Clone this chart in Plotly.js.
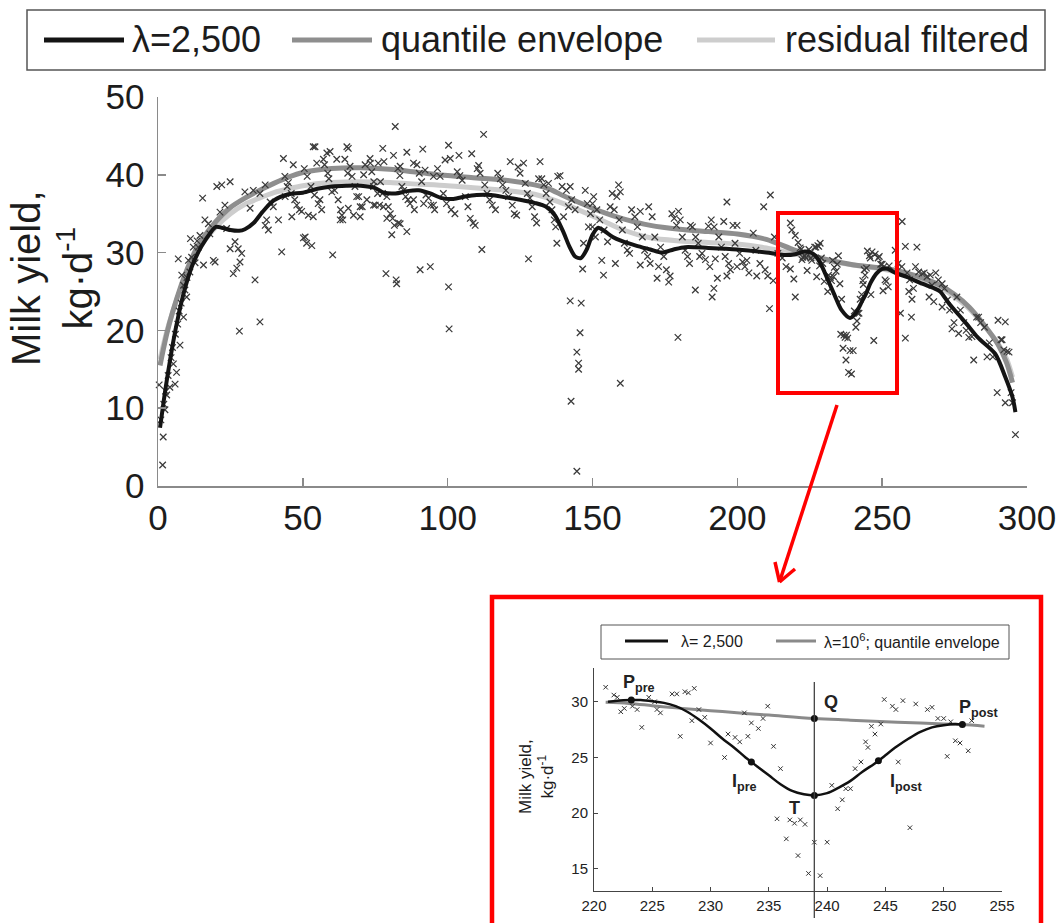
<!DOCTYPE html>
<html><head><meta charset="utf-8">
<script src="https://cdn.plot.ly/plotly-3.0.1.min.js"></script>
<style>html,body{margin:0;padding:0;background:#fff;}#chart{width:1060px;height:923px;}</style>
</head><body><div id="chart"></div>
<script>
// ---------------- DATA ----------------
const xTicksMain = [0, 50, 100, 150, 200, 250, 300];
const yTicksMain = [0, 10, 20, 30, 40, 50];
const xTicksInset = [220, 225, 230, 235, 240, 245, 250, 255];
const yTicksInset = [15, 20, 25, 30];
const legendMain = ["λ=2,500", "quantile envelope", "residual filtered"];
const legendInset = ["λ= 2,500", "λ=10<sup>6</sup>; quantile envelope"];
const yTitle = "Milk yield,<br>kg·d<sup>-1</sup>";

// daily milk yield observations (day, kg/d) outside the zoomed window
const scatterMain = [
[1.6,2.7],[1.8,6.3],[0.4,13.0],[2.4,9.8],[3.0,11.7],[4.1,12.7],[5.9,13.1],[6.4,14.6],[5.3,15.7],[7.6,18.1],[8.8,21.7],[9.9,24.3],[8.8,25.8],[8.2,27.1],[7.0,29.2],[10.5,29.0],[11.6,29.4],[12.2,30.7],[13.9,30.7],[15.7,28.4],[16.2,34.2],[17.4,33.7],[17.9,32.4],[19.1,29.0],[19.7,28.8],[15.4,37.0],[20.3,38.5],[22.0,38.7],[24.9,39.1],[23.1,36.1],[21.4,35.2],[23.7,33.1],[24.9,30.5],[26.6,31.4],[27.7,30.5],[28.9,29.9],[28.3,28.8],[27.2,28.0],[26.0,27.3],[28.1,19.9],[33.5,26.5],[35.2,21.1],[30.0,37.8],[31.8,35.7],[32.9,38.0],[35.2,37.6],[37.0,38.7],[38.7,36.5],[37.5,34.2],[38.1,32.9],[37.0,33.5],[39.8,35.9],[41.6,34.2],[42.7,30.1],[43.3,42.1],[43.9,37.2],[45.0,39.0],[46.7,41.3],[46.2,34.6],[47.9,36.1],[49.6,35.3],[50.8,32.0],[51.3,31.2],[53.1,30.9],[51.9,34.8],[53.6,34.6],[54.2,43.6],[54.8,41.5],[55.9,36.8],[57.1,42.0],[58.3,42.8],[59.4,43.0],[60.0,37.8],[60.3,29.7],[61.7,42.0],[63.5,34.8],[62.9,34.2],[65.2,43.6],[65.7,35.7],[66.3,41.1],[67.5,34.8],[68.6,37.2],[69.8,34.6],[71.0,40.0],[72.1,36.8],[73.3,41.5],[75.0,36.1],
[1.0,8.5],[2.0,10.5],[2.6,12.2],[3.5,14.2],[4.5,16.5],[5.0,17.8],[6.0,19.5],[6.8,20.8],[7.3,22.5],[8.0,23.5],[9.3,25.2],[10.0,26.8],[11.0,27.5],[12.8,28.7],[13.5,31.5],[14.5,32.2],[11.2,31.8],
[43.8,39.8],[44.6,38.5],[46.0,37.6],[47.2,36.8],[48.8,35.5],[50.5,40.8],[51.5,39.8],[52.8,38.5],[54.0,37.4],[55.3,36.3],[56.5,35.5],[57.5,41.3],[58.6,40.2],[59.0,39.5],[61.0,38.0],[62.2,36.8],[63.0,35.5],[63.8,34.2],[64.5,42.0],[65.5,40.2],[67.0,39.8],[68.0,38.5],[69.3,37.2],[70.5,35.9],[71.5,41.3],[73.8,40.4],[74.5,39.1],[75.8,37.6],[76.5,36.1],
[81.9,46.2],[77.6,43.4],[85.9,42.9],[91.4,43.3],[81.3,42.5],[73.2,42.1],[78.0,41.7],[83.6,41.1],[88.2,41.5],[92.2,40.6],[95.1,39.8],[74.4,38.5],[79.0,37.2],[84.8,38.0],[88.2,36.8],[91.7,36.3],[95.1,36.1],[69.8,35.9],[74.4,36.1],[79.0,34.4],[77.8,35.9],[83.0,33.8],[85.9,32.7],[80.7,32.3],[78.7,27.3],[82.2,26.5],[82.4,26.0],[90.5,27.8],[94.0,28.2],[53.6,43.6],[65.7,43.4],[50.2,31.9],
[100.3,43.8],[112.4,45.2],[103.9,42.5],[108.3,42.7],[99.1,41.9],[100.9,42.1],[121.6,41.7],[126.2,41.5],[131.9,41.7],[138.0,39.8],[134.8,38.9],[142.3,38.5],[131.4,39.5],[110.7,41.2],[100.3,25.6],[100.5,20.2],[111.8,30.4],[127.9,29.2],[137.7,31.2],[142.3,23.8],[146.1,23.5],[145.7,19.7],[144.6,17.2],[145.2,15.8],[145.2,15.0],[142.6,10.9],[144.6,1.9],[146.6,27.9],[146.9,31.2],[148.6,33.3],[140.0,34.6],[141.7,35.9],[83.6,33.7],
[76.0,41.5],[76.8,39.1],[77.5,37.6],[79.5,35.9],[80.2,35.0],[81.0,34.4],[81.6,33.5],
[82.8,40.8],[83.5,39.9],[84.2,38.5],[85.5,37.2],[86.3,36.8],[87.0,36.3],[88.5,35.5],
[89.4,41.3],[90.2,40.2],[91.0,39.1],[92.5,37.4],[93.4,37.0],[94.2,36.1],[95.5,35.5],
[96.5,40.8],[97.4,39.8],[98.5,37.6],[99.6,36.3],[101.2,35.5],[102.5,35.0],
[103.3,40.4],[104.2,39.9],[105.0,39.3],[106.1,37.2],[107.0,35.9],[107.8,34.4],[108.8,33.8],[109.5,33.5],
[110.2,40.8],[111.2,40.2],[112.8,38.7],[113.6,37.6],[114.5,36.8],[115.4,36.1],[116.5,35.5],
[117.3,40.2],[118.2,39.5],[119.0,38.7],[120.1,38.0],[121.0,37.2],[122.3,36.1],[123.0,35.0],[123.8,34.8],
[124.3,41.0],[125.0,40.2],[126.8,38.9],[127.5,37.6],[128.4,37.0],[129.2,35.9],[130.0,34.6],[130.7,33.8],
[132.5,39.5],[133.2,38.7],[134.0,37.6],[135.3,36.5],[136.0,35.5],[136.8,34.2],[137.3,33.3],
[138.8,39.9],[139.5,38.5],[141.0,38.0],[142.8,36.8],[144.0,35.5],
[147.5,38.0],[148.2,36.3],[149.3,35.0],[150.0,33.3],[151.0,32.0],
[159.0,38.7],[159.6,37.8],[158.4,37.2],[150.4,37.2],[156.1,35.9],[169.4,35.9],[179.7,35.3],[180.3,34.2],[166.5,35.3],[183.8,33.5],[196.4,36.5],[211.4,37.4],[209.1,35.9],[190.0,33.4],[195.3,34.0],[199.9,33.5],[153.2,29.0],[153.8,27.1],[157.9,28.6],[166.5,28.4],[169.9,28.6],[172.8,28.2],[172.3,26.7],[176.3,26.2],[185.5,25.2],[191.3,24.3],[191.9,25.4],[193.1,26.7],[196.4,27.0],[199.9,28.2],[206.7,27.0],[211.1,22.8],[179.5,19.1],[159.6,13.2],[187.0,29.5],[192.4,29.2],[203.3,29.0],[218.3,33.8],[220.0,32.2],[218.3,27.9],[219.5,26.6],[220.0,24.3],[212.4,26.4],
[150.0,36.3],[151.5,35.5],[152.5,34.2],[154.0,32.9],[155.2,31.4],
[156.8,37.6],[157.5,35.5],[159.2,34.2],[160.3,32.9],[161.0,31.2],[162.0,30.3],[162.8,29.9],
[163.5,35.5],[164.6,34.6],[165.5,33.3],[167.2,32.0],[168.0,30.3],[169.0,29.5],
[170.6,34.6],[171.5,32.0],[173.5,30.7],[174.6,29.5],[175.5,27.8],[176.8,27.0],
[177.4,35.0],[178.2,34.4],[179.0,33.5],[181.0,32.0],[182.0,30.3],[182.8,29.5],[183.5,28.6],
[184.5,33.3],[185.6,32.0],[186.5,31.2],[187.8,29.9],[189.0,29.1],[190.5,28.2],
[191.0,34.2],[192.0,33.3],[193.6,32.0],[194.5,30.7],[195.8,29.5],[197.0,28.6],[197.6,27.8],
[198.5,33.5],[199.2,31.2],[200.8,29.9],[201.8,28.8],[202.6,28.2],[204.0,27.4],
[205.5,32.5],[206.4,30.3],[207.8,28.6],[209.6,27.8],[210.5,27.0],
[212.8,32.0],[214.0,29.9],[215.5,29.3],[216.8,28.2],[218.8,32.9],
[256.9,34.0],[258.0,30.8],[262.0,30.7],[258.0,19.0],[256.3,22.2],[259.2,25.0],[260.3,24.0],[260.1,21.7],[263.8,27.3],[266.6,27.1],[267.2,25.8],[270.7,26.0],[270.7,23.0],[274.1,20.2],[276.4,19.6],[279.9,19.1],[281.6,16.2],[283.3,21.7],[286.2,16.6],[292.5,21.1],[291.4,18.8],[293.1,17.3],[289.7,12.0],[292.5,10.7],[296.0,6.6],
[254.5,30.3],[255.5,28.6],[256.8,28.2],[258.6,27.4],[259.5,26.5],[260.8,25.4],
[261.5,28.2],[262.6,27.5],[264.5,27.4],[265.5,26.9],[266.2,24.3],[267.8,23.7],
[268.5,27.4],[269.4,26.5],[271.5,25.4],[272.5,23.9],[273.3,22.6],[274.8,21.0],
[275.8,24.3],[277.0,22.6],[278.2,21.0],[279.0,20.0],[281.0,19.2],
[282.6,21.7],[284.0,21.0],[285.3,20.4],[287.0,18.4],[288.2,16.6],
[290.0,21.3],[291.0,18.8],[292.0,17.5],[293.8,17.2],[294.5,12.0],[295.0,10.7]
];

// observations inside the zoomed window (days 221-253), shown in both panels
const scatterInset = [
[221.0,31.3],[221.7,30.6],[222.0,30.4],[222.3,29.1],[222.6,29.4],[223.3,29.6],[223.7,29.3],[224.1,27.7],[224.7,30.4],[225.2,30.0],[225.4,29.3],[225.7,29.0],[226.7,30.7],[227.1,30.7],[227.4,26.9],[227.8,30.9],[228.1,30.8],[228.6,31.2],[228.4,28.3],[229.0,29.3],[229.5,28.6],[230.0,26.3],[231.2,25.0],[231.5,27.1],[232.1,26.8],[232.5,26.4],[232.9,29.0],[233.2,26.9],[233.5,28.1],[234.1,27.6],[234.5,28.5],[234.9,29.6],[235.4,26.0],[235.7,19.5],[236.0,24.0],[236.5,17.7],[236.8,19.4],[237.2,19.1],[237.5,16.2],[237.7,19.4],[238.1,19.0],[238.4,14.6],[238.9,17.4],[239.4,14.4],[240.0,17.4],[240.4,22.5],[240.9,20.4],[241.3,21.2],[241.6,22.2],[242.0,22.2],[242.4,24.0],[242.9,24.6],[243.3,26.4],[243.5,25.9],[243.8,27.8],[244.1,27.1],[244.6,28.0],[244.9,30.2],[245.6,29.6],[245.9,29.3],[246.1,24.6],[246.5,30.1],[247.1,18.7],[247.6,29.8],[248.6,29.3],[249.0,29.5],[249.5,28.5],[250.0,28.5],[250.3,25.1],[250.6,28.2],[251.0,26.5],[251.4,26.3],[252.1,25.6],[252.4,28.3]
];

// smoothed curves (day, kg/d)
const curveLambda2500 = [
[0.7,7.5],[2,11],[3,13.5],[4,15.8],[5,18],[6,20],[7,21.8],[8,23.5],[10,26.3],[12,28.5],[15,30.8],[18,32.5],[20,33.3],[22,33.2],[25,32.9],[28,32.8],[30,33.0],[33,33.8],[36,35.2],[40,36.7],[45,37.5],[50,37.7],[55,38.2],[60,38.5],[65,38.6],[70,38.6],[75,38.3],[78,37.7],[82,37.6],[86,37.9],[90,38.0],[94,37.6],[98,37.0],[102,36.9],[106,37.2],[110,37.4],[115,37.4],[120,37.1],[125,36.8],[130,36.4],[134,35.9],[137,34.8],[140,32.6],[142,30.8],[144,29.5],[146,29.3],[148,30.4],[150,32.3],[152,33.2],[154,32.8],[157,32.0],[160,31.5],[165,30.9],[170,30.4],[174,30.0],[178,30.4],[182,30.7],[190,30.6],[200,30.4],[210,30.0],[216,29.7],[220,29.8],[223.2,30.15],[225,30.05],[227,29.6],[229,28.4],[231,26.7],[233.5,24.6],[236,22.6],[238.9,21.6],[241,22.3],[243,23.7],[244.4,24.7],[246,26.1],[248,27.3],[250,27.9],[251.6,27.95],[254.6,27.4],[259,26.8],[263.8,26.0],[268,25.4],[270,25.0],[273,23.5],[279,20.9],[283,19.1],[289,17.0],[292.5,14.0],[295,11.4],[296,9.5]
];
const curveQuantile = [
[0.7,15.5],[3,19.5],[5,22.3],[8,25.8],[10,27.8],[13,30.3],[16,32.1],[20,34.0],[25,35.8],[30,37.0],[35,38.0],[40,38.9],[45,39.7],[50,40.3],[60,40.8],[70,40.9],[80,40.7],[90,40.3],[100,39.9],[110,39.6],[120,39.3],[130,38.7],[135,38.2],[140,37.3],[145,36.5],[150,35.7],[155,35.0],[160,34.4],[170,33.5],[180,33.0],[190,32.7],[200,32.4],[210,31.7],[220,30.3],[230,29.2],[238.9,28.5],[245,28.2],[250,28.0],[255,27.7],[260,27.2],[265,26.6],[270,25.8],[275,24.6],[280,23.0],[285,20.8],[290,18.2],[293,15.8],[295,13.3]
];
const curveResidual = [
[0.7,16.3],[3,19.8],[5,22.3],[8,25.5],[10,27.3],[13,29.6],[16,31.5],[20,33.3],[25,35.0],[30,36.2],[35,37.0],[40,37.7],[45,38.2],[50,38.6],[60,39.0],[70,39.1],[80,39.0],[90,38.8],[100,38.6],[110,38.3],[120,38.0],[130,37.5],[140,36.3],[150,34.7],[160,33.0],[170,31.9],[180,31.5],[190,31.3],[200,31.1],[210,30.6],[220,29.8],[230,29.0],[240,28.4],[250,27.9],[255,27.5],[260,27.0],[265,26.3],[270,25.5],[275,24.3],[280,22.8],[285,20.7],[290,18.3],[293,16.3],[295,14.0]
];

// inset curves
const insetLambda2500 = [
[221.2,30.0],[222,30.1],[223.2,30.15],[224,30.15],[225,30.05],[226,29.9],[227,29.6],[228,29.1],[229,28.4],[230,27.6],[231,26.7],[232,25.9],[233,25.0],[233.5,24.6],[234,24.2],[235,23.4],[236,22.6],[237,22.0],[238,21.7],[238.9,21.6],[240,21.8],[241,22.3],[242,22.9],[243,23.7],[244,24.4],[244.4,24.7],[245,25.2],[246,26.0],[247,26.7],[248,27.3],[249,27.7],[250,27.9],[251,28.0],[251.6,27.95]
];
const insetQuantile = [
[221,29.95],[223,29.85],[225,29.65],[227,29.45],[230,29.2],[233,28.95],[235,28.8],[238.9,28.5],[242,28.35],[245,28.2],[248,28.1],[250,28.0],[251.6,27.95],[253.5,27.8]
];
const keyPointNames = ["Ppre", "Ipre", "T", "Q", "Ipost", "Ppost"];
const keyPointDays = [223.2, 233.5, 238.9, 238.9, 244.4, 251.6];
const keyPointYield = [30.15, 24.6, 21.6, 28.5, 24.7, 27.95];
const keyPointLabels = ["P<sub>pre</sub>", "I<sub>pre</sub>", "T", "Q", "I<sub>post</sub>", "P<sub>post</sub>"];
const keyLabelDays = [223.9, 232.9, 237.2, 240.3, 246.8, 253.0];
const keyLabelYield = [31.6, 22.8, 20.5, 30.0, 22.8, 29.4];
const dropDay = 238.9;

// ---------------- CHART ----------------
const W = 1060, H = 923;
const px = v => v / W, py = v => 1 - v / H;
const FONT = 'Liberation Sans, Arial, Helvetica, sans-serif';
const xs = a => a.map(p => p[0]), ys = a => a.map(p => p[1]);
const allMain = scatterMain.concat(scatterInset);

const C_BLACK = '#141414', C_GREY = '#8e8e8e', C_LIGHT = '#cdcdcd';

const traces = [
  {x: xs(curveResidual), y: ys(curveResidual), xaxis:'x', yaxis:'y', mode:'lines', line:{color:C_LIGHT, width:5, shape:'spline', smoothing:0.8}},
  {x: xs(curveQuantile), y: ys(curveQuantile), xaxis:'x', yaxis:'y', mode:'lines', line:{color:C_GREY, width:5, shape:'spline', smoothing:0.8}},
  {x: xs(allMain), y: ys(allMain), xaxis:'x', yaxis:'y', mode:'markers', cliponaxis:false,
   marker:{symbol:'x-thin', size:6.5, line:{color:'#3a3a3a', width:1.25}}},
  {x: xs(curveLambda2500), y: ys(curveLambda2500), xaxis:'x', yaxis:'y', mode:'lines', line:{color:C_BLACK, width:4, shape:'spline', smoothing:0.8}},
  {x: xs(insetQuantile), y: ys(insetQuantile), xaxis:'x2', yaxis:'y2', mode:'lines', line:{color:'#8a8a8a', width:3, shape:'spline'}},
  {x: xs(scatterInset), y: ys(scatterInset), xaxis:'x2', yaxis:'y2', mode:'markers',
   marker:{symbol:'x-thin', size:4.5, line:{color:'#333', width:1}}},
  {x: xs(insetLambda2500), y: ys(insetLambda2500), xaxis:'x2', yaxis:'y2', mode:'lines', line:{color:'#111', width:2.5, shape:'spline'}},
  {x: keyPointDays, y: keyPointYield, text: keyPointNames, xaxis:'x2', yaxis:'y2', mode:'markers', marker:{color:'#111', size:7}}
];

const axBase = {showgrid:false, zeroline:false, showline:true, ticks:'inside', fixedrange:true};
const layout = {
  width: W, height: H, margin:{l:0, r:0, t:0, b:0},
  paper_bgcolor:'#fff', plot_bgcolor:'rgba(0,0,0,0)', showlegend:false,
  font:{family:FONT, color:'#1c1c1c'},
  xaxis: Object.assign({}, axBase, {domain:[px(158), px(1027)], range:[0,300], anchor:'y', tickmode:'array', tickvals:xTicksMain,
    ticklen:8, tickcolor:'#8a8a8a', tickwidth:1.5, linecolor:'#8a8a8a', linewidth:1.5, tickfont:{size:35, family:FONT, color:'#1c1c1c'}, ticklabelstandoff:0}),
  yaxis: Object.assign({}, axBase, {domain:[py(486), py(97)], range:[0,50], anchor:'x', tickmode:'array', tickvals:yTicksMain,
    ticklen:8, tickcolor:'#8a8a8a', tickwidth:1.5, linecolor:'#8a8a8a', linewidth:1.5, tickfont:{size:35, family:FONT, color:'#1c1c1c'}, ticklabelstandoff:5}),
  xaxis2: Object.assign({}, axBase, {domain:[px(594), px(1002)], range:[220,255], anchor:'y2', tickmode:'array', tickvals:xTicksInset,
    ticklen:4, tickcolor:'#444', linecolor:'#444', linewidth:1, tickfont:{size:15, family:FONT, color:'#222'}, ticklabelstandoff:1}),
  yaxis2: Object.assign({}, axBase, {domain:[py(890.7), py(668.3)], range:[13.05,33.0], anchor:'x2', tickmode:'array', tickvals:yTicksInset,
    ticklen:4, tickcolor:'#444', linecolor:'#444', linewidth:1, tickfont:{size:15, family:FONT, color:'#222'}, ticklabelstandoff:2}),
  shapes: [
    {type:'rect', xref:'paper', yref:'paper', x0:px(27), x1:px(1045), y0:py(70), y1:py(10), line:{color:'#555', width:1.5}},
    {type:'line', xref:'paper', yref:'paper', x0:px(44), x1:px(124), y0:py(40), y1:py(40), line:{color:C_BLACK, width:5}},
    {type:'line', xref:'paper', yref:'paper', x0:px(292), x1:px(372), y0:py(40), y1:py(40), line:{color:C_GREY, width:5}},
    {type:'line', xref:'paper', yref:'paper', x0:px(697), x1:px(775), y0:py(40), y1:py(40), line:{color:C_LIGHT, width:5}},
    {type:'rect', xref:'paper', yref:'paper', x0:px(778), x1:px(897), y0:py(393), y1:py(213), line:{color:'#ff0000', width:4}},
    {type:'line', xref:'paper', yref:'paper', x0:px(837), y0:py(405), x1:px(779.5), y1:py(582), line:{color:'#ff0000', width:3.5}},
    {type:'line', xref:'paper', yref:'paper', x0:px(779.5), y0:py(582), x1:px(775), y1:py(562), line:{color:'#ff0000', width:3.5}},
    {type:'line', xref:'paper', yref:'paper', x0:px(779.5), y0:py(582), x1:px(795), y1:py(569), line:{color:'#ff0000', width:3.5}},
    {type:'rect', xref:'paper', yref:'paper', x0:px(492), x1:px(1041), y0:py(935), y1:py(597), line:{color:'#ff0000', width:4.5}},
    {type:'rect', xref:'paper', yref:'paper', x0:px(601), x1:px(1009), y0:py(659), y1:py(625), line:{color:'#555', width:1}},
    {type:'line', xref:'paper', yref:'paper', x0:px(625), x1:px(668), y0:py(641), y1:py(641), line:{color:'#111', width:3}},
    {type:'line', xref:'paper', yref:'paper', x0:px(776), x1:px(816), y0:py(641), y1:py(641), line:{color:'#8a8a8a', width:3}},
    {type:'line', xref:'x2', yref:'paper', x0:dropDay, x1:dropDay, y0:py(918), y1:py(682), line:{color:'#444', width:1.3}}
  ],
  annotations: [
    {xref:'paper', yref:'paper', x:px(130), y:py(40), xanchor:'left', yanchor:'middle', text:legendMain[0], showarrow:false, font:{size:36, family:FONT, color:'#1c1c1c'}},
    {xref:'paper', yref:'paper', x:px(379), y:py(40), xanchor:'left', yanchor:'middle', text:legendMain[1], showarrow:false, font:{size:36, family:FONT, color:'#1c1c1c'}},
    {xref:'paper', yref:'paper', x:px(783), y:py(40), xanchor:'left', yanchor:'middle', text:legendMain[2], showarrow:false, font:{size:36, family:FONT, color:'#1c1c1c'}},
    {xref:'paper', yref:'paper', x:px(52), y:py(278), xanchor:'center', yanchor:'middle', textangle:-90, text:yTitle, showarrow:false, font:{size:40, family:FONT, color:'#1c1c1c'}},
    {xref:'paper', yref:'paper', x:px(679), y:py(641), xanchor:'left', yanchor:'middle', text:legendInset[0], showarrow:false, font:{size:16, family:FONT, color:'#1c1c1c'}},
    {xref:'paper', yref:'paper', x:px(822), y:py(641), xanchor:'left', yanchor:'middle', text:legendInset[1], showarrow:false, font:{size:16, family:FONT, color:'#1c1c1c'}},
    {xref:'paper', yref:'paper', x:px(536), y:py(777), xanchor:'center', yanchor:'middle', textangle:-90, text:yTitle, showarrow:false, font:{size:17, family:FONT, color:'#1c1c1c'}}
  ].concat(keyPointLabels.map((t, i) => ({xref:'x2', yref:'y2', x:keyLabelDays[i], y:keyLabelYield[i], text:t, showarrow:false,
    xanchor:'center', yanchor:'middle', font:{size:18, family:FONT, color:'#222', weight:'bold'}})))
};

Plotly.newPlot('chart', traces, layout, {staticPlot:true, displayModeBar:false});
</script>
</body></html>
